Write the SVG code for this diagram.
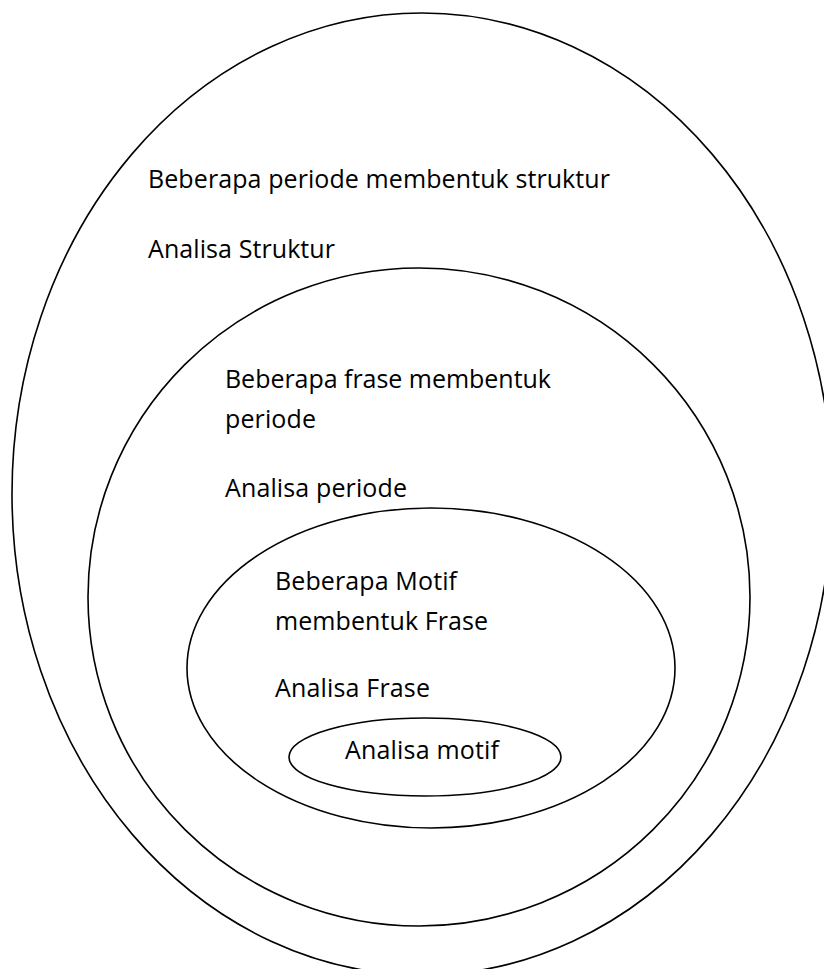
<svg xmlns="http://www.w3.org/2000/svg" width="824" height="969" viewBox="0 0 824 969">
<style>
.ring{fill:none;stroke:#000;stroke-width:1.6}
.t{font-family:"Open Sans","Liberation Sans",sans-serif;font-size:25px;fill:#000}
</style>
<rect width="824" height="969" fill="#fff"/>
<g id="struktur">
<ellipse class="ring" cx="422" cy="494" rx="410" ry="481"/>
<text class="t" x="148" y="188" textLength="462">Beberapa periode membentuk struktur</text>
<text class="t" x="148" y="258" textLength="187">Analisa Struktur</text>
</g>
<g id="periode">
<ellipse class="ring" cx="419" cy="597" rx="331" ry="329"/>
<text class="t" x="225" y="388" textLength="326">Beberapa frase membentuk</text>
<text class="t" x="225" y="428" textLength="91">periode</text>
<text class="t" x="225" y="497" textLength="182">Analisa periode</text>
</g>
<g id="frase">
<ellipse class="ring" cx="431" cy="668" rx="244" ry="160"/>
<text class="t" x="275" y="590" textLength="182">Beberapa Motif</text>
<text class="t" x="275" y="630" textLength="213">membentuk Frase</text>
<text class="t" x="275" y="697" textLength="155">Analisa Frase</text>
</g>
<g id="motif">
<ellipse class="ring" cx="425" cy="757" rx="136" ry="39"/>
<text class="t" x="345" y="759" textLength="154">Analisa motif</text>
</g>
</svg>
